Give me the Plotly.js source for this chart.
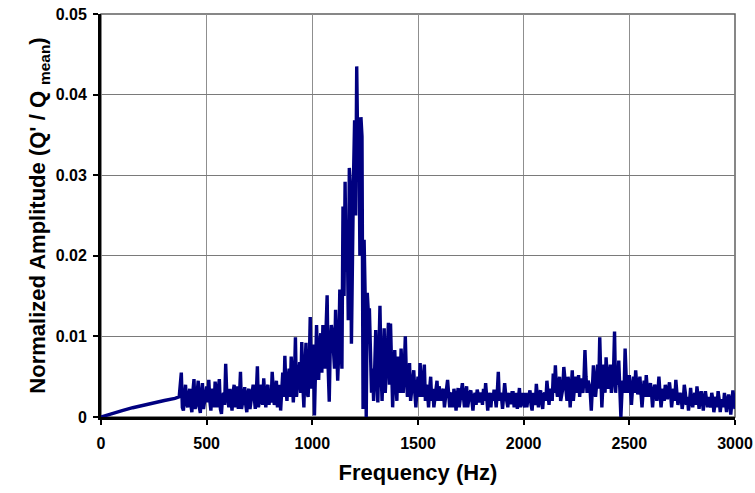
<!DOCTYPE html>
<html>
<head>
<meta charset="utf-8">
<script src="https://cdn.plot.ly/plotly-3.0.1.min.js"></script>
<style>html,body{margin:0;padding:0;background:#fff;}#chart{width:755px;height:493px;}</style>
</head>
<body>
<div id="chart"></div>
<script>
// Smooth low-frequency part (Hz, amplitude)
const rampFreq = [0, 50, 100, 150, 200, 250, 300, 350, 370];
const rampAmp  = [0, 0.00042, 0.0008, 0.00115, 0.00148, 0.00178, 0.00205, 0.0023, 0.0025];

// Noisy spectrum 380 - 1130 Hz (10 Hz bins)
const freqA = [380,390,400,410,420,430,440,450,460,470,480,490,500,510,520,530,540,550,560,570,580,590,600,610,620,630,640,650,660,670,680,690,700,710,720,730,740,750,760,770,780,790,800,810,820,830,840,850,860,870,880,890,900,910,920,930,940,950,960,970,980,990,1000,1010,1020,1030,1040,1050,1060,1070,1080,1090,1100,1110,1120,1130];
const ampA  = [0.0055,0.0008,0.0040,0.0012,0.0035,0.0006,0.0047,0.0015,0.0045,0.0005,0.0042,0.0020,0.0038,0.0046,0.0008,0.0030,0.0044,0.0012,0.0047,0.0004,0.0030,0.0066,0.0020,0.0035,0.0008,0.0040,0.0025,0.0010,0.0056,0.0018,0.0037,0.0006,0.0035,0.0022,0.0040,0.0010,0.0063,0.0020,0.0035,0.0048,0.0012,0.0040,0.0030,0.0056,0.0015,0.0045,0.0030,0.0008,0.0055,0.0076,0.0020,0.0060,0.0075,0.0018,0.0099,0.0040,0.0068,0.0093,0.0012,0.0092,0.0025,0.0124,0.0060,0.0002,0.0114,0.0046,0.0104,0.0114,0.0060,0.0151,0.0019,0.0114,0.0070,0.0133,0.0045,0.0158];
// in-between bins 385 - 1135 Hz
const freqA2 = [385,395,405,415,425,435,445,455,465,475,485,495,505,515,525,535,545,555,565,575,585,595,605,615,625,635,645,655,665,675,685,695,705,715,725,735,745,755,765,775,785,795,805,815,825,835,845,855,865,875,885,895,905,915,925,935,945,955,965,975,985,995,1005,1015,1025,1035,1045,1055,1065,1075,1085,1095,1105,1115,1125,1135];
const ampA2  = [0.0012,0.0030,0.0018,0.0028,0.0015,0.0032,0.0010,0.0030,0.0012,0.0030,0.0010,0.0032,0.0018,0.0020,0.0035,0.0012,0.0030,0.0035,0.0010,0.0025,0.0015,0.0030,0.0012,0.0020,0.0030,0.0012,0.0038,0.0025,0.0010,0.0032,0.0015,0.0030,0.0010,0.0032,0.0025,0.0030,0.0012,0.0040,0.0015,0.0025,0.0035,0.0015,0.0018,0.0035,0.0025,0.0012,0.0040,0.0030,0.0025,0.0035,0.0045,0.0025,0.0050,0.0045,0.0025,0.0065,0.0030,0.0040,0.0060,0.0030,0.0060,0.0035,0.0090,0.0050,0.0070,0.0090,0.0055,0.0080,0.0110,0.0060,0.0090,0.0105,0.0060,0.0100,0.0080,0.0100];

// Main peak 1140 - 1265 Hz
const freqB = [1140,1145,1150,1155,1160,1165,1170,1175,1180,1185,1190,1195,1200,1205,1210,1215,1220,1225,1230,1235,1240,1245,1250,1255,1260,1265];
const ampB  = [0.0060,0.0261,0.0150,0.0292,0.0180,0.0240,0.0120,0.0309,0.0286,0.0091,0.0236,0.0300,0.0368,0.0250,0.0435,0.0330,0.0372,0.0200,0.0372,0.0348,0.0010,0.0220,0.0150,0.0000,0.0154,0.0130];

// 1270 - 2000 Hz
const freqC = [1270,1280,1290,1300,1310,1320,1330,1340,1350,1360,1370,1380,1390,1400,1410,1420,1430,1440,1450,1460,1470,1480,1490,1500,1510,1520,1530,1540,1550,1560,1570,1580,1590,1600,1610,1620,1630,1640,1650,1660,1670,1680,1690,1700,1710,1720,1730,1740,1750,1760,1770,1780,1790,1800,1810,1820,1830,1840,1850,1860,1870,1880,1890,1900,1910,1920,1930,1940,1950,1960,1970,1980,1990,2000];
const ampC  = [0.0135,0.0030,0.0020,0.0108,0.0018,0.0138,0.0020,0.0110,0.0050,0.0117,0.0116,0.0012,0.0083,0.0020,0.0060,0.0085,0.0030,0.0100,0.0025,0.0067,0.0035,0.0058,0.0012,0.0050,0.0067,0.0025,0.0065,0.0040,0.0012,0.0050,0.0035,0.0025,0.0045,0.0038,0.0020,0.0035,0.0028,0.0046,0.0012,0.0030,0.0035,0.0008,0.0036,0.0025,0.0042,0.0012,0.0038,0.0022,0.0033,0.0008,0.0030,0.0034,0.0018,0.0028,0.0035,0.0042,0.0008,0.0025,0.0030,0.0034,0.0012,0.0056,0.0030,0.0010,0.0042,0.0020,0.0030,0.0016,0.0030,0.0022,0.0010,0.0036,0.0020,0.0017];
const freqC2 = [1275,1285,1295,1305,1315,1325,1335,1345,1355,1365,1375,1385,1395,1405,1415,1425,1435,1445,1455,1465,1475,1485,1495,1505,1515,1525,1535,1545,1555,1565,1575,1585,1595,1605,1615,1625,1635,1645,1655,1665,1675,1685,1695,1705,1715,1725,1735,1745,1755,1765,1775,1785,1795,1805,1815,1825,1835,1845,1855,1865,1875,1885,1895,1905,1915,1925,1935,1945,1955,1965,1975,1985,1995];
const ampC2  = [0.0070,0.0060,0.0060,0.0050,0.0080,0.0060,0.0065,0.0030,0.0085,0.0040,0.0060,0.0050,0.0045,0.0075,0.0030,0.0055,0.0060,0.0050,0.0040,0.0020,0.0050,0.0030,0.0035,0.0025,0.0040,0.0045,0.0020,0.0030,0.0035,0.0020,0.0012,0.0035,0.0020,0.0030,0.0030,0.0012,0.0035,0.0025,0.0028,0.0012,0.0025,0.0025,0.0012,0.0030,0.0025,0.0030,0.0012,0.0030,0.0022,0.0025,0.0015,0.0028,0.0030,0.0015,0.0020,0.0025,0.0030,0.0012,0.0020,0.0025,0.0030,0.0020,0.0025,0.0025,0.0028,0.0012,0.0025,0.0030,0.0012,0.0030,0.0025,0.0012,0.0030];

// 2010 - 3000 Hz
const freqD = [2010,2020,2030,2040,2050,2060,2070,2080,2090,2100,2110,2120,2130,2140,2150,2160,2170,2180,2190,2200,2210,2220,2230,2240,2250,2260,2270,2280,2290,2300,2310,2320,2330,2340,2350,2360,2370,2380,2390,2400,2410,2420,2430,2440,2450,2460,2470,2480,2490,2500,2510,2520,2530,2540,2550,2560,2570,2580,2590,2600,2610,2620,2630,2640,2650,2660,2670,2680,2690,2700,2710,2720,2730,2740,2750,2760,2770,2780,2790,2800,2810,2820,2830,2840,2850,2860,2870,2880,2890,2900,2910,2920,2930,2940,2950,2960,2970,2980,2990,3000];
const ampD  = [0.0030,0.0022,0.0033,0.0008,0.0025,0.0041,0.0012,0.0033,0.0010,0.0030,0.0045,0.0015,0.0030,0.0054,0.0064,0.0025,0.0050,0.0030,0.0062,0.0030,0.0050,0.0012,0.0058,0.0035,0.0030,0.0052,0.0048,0.0030,0.0083,0.0030,0.0040,0.0008,0.0064,0.0025,0.0065,0.0099,0.0012,0.0065,0.0074,0.0035,0.0065,0.0045,0.0106,0.0055,0.0070,0.0000,0.0045,0.0085,0.0030,0.0052,0.0015,0.0050,0.0058,0.0028,0.0050,0.0012,0.0045,0.0052,0.0025,0.0042,0.0012,0.0040,0.0020,0.0050,0.0012,0.0035,0.0040,0.0022,0.0043,0.0012,0.0035,0.0046,0.0015,0.0030,0.0010,0.0040,0.0015,0.0008,0.0036,0.0012,0.0030,0.0038,0.0010,0.0032,0.0008,0.0032,0.0012,0.0020,0.0030,0.0006,0.0025,0.0032,0.0006,0.0022,0.0030,0.0006,0.0028,0.0003,0.0033,0.0010];
const freqD2 = [2005,2015,2025,2035,2045,2055,2065,2075,2085,2095,2105,2115,2125,2135,2145,2155,2165,2175,2185,2195,2205,2215,2225,2235,2245,2255,2265,2275,2285,2295,2305,2315,2325,2335,2345,2355,2365,2375,2385,2395,2405,2415,2425,2435,2445,2455,2465,2475,2485,2495,2505,2515,2525,2535,2545,2555,2565,2575,2585,2595,2605,2615,2625,2635,2645,2655,2665,2675,2685,2695,2705,2715,2725,2735,2745,2755,2765,2775,2785,2795,2805,2815,2825,2835,2845,2855,2865,2875,2885,2895,2905,2915,2925,2935,2945,2955,2965,2975,2985,2995];
const ampD2  = [0.0012,0.0012,0.0030,0.0015,0.0030,0.0015,0.0025,0.0030,0.0020,0.0028,0.0020,0.0030,0.0035,0.0020,0.0030,0.0035,0.0040,0.0020,0.0035,0.0045,0.0020,0.0040,0.0035,0.0020,0.0050,0.0040,0.0025,0.0035,0.0045,0.0050,0.0045,0.0030,0.0035,0.0045,0.0040,0.0035,0.0050,0.0040,0.0030,0.0050,0.0050,0.0030,0.0055,0.0030,0.0040,0.0040,0.0030,0.0030,0.0050,0.0040,0.0035,0.0035,0.0030,0.0040,0.0038,0.0030,0.0030,0.0025,0.0035,0.0035,0.0030,0.0030,0.0035,0.0030,0.0030,0.0025,0.0020,0.0030,0.0035,0.0030,0.0025,0.0020,0.0030,0.0025,0.0025,0.0020,0.0030,0.0025,0.0020,0.0020,0.0025,0.0015,0.0025,0.0025,0.0020,0.0025,0.0022,0.0025,0.0012,0.0022,0.0018,0.0012,0.0022,0.0018,0.0012,0.0018,0.0020,0.0020,0.0018,0.0022];

const xTickVals = [0, 500, 1000, 1500, 2000, 2500, 3000];
const yTickVals = [0, 0.01, 0.02, 0.03, 0.04, 0.05];
const yTickText = ['0', '0.01', '0.02', '0.03', '0.04', '0.05'];

// merge all bins in frequency order
const pairs = [];
[[rampFreq, rampAmp], [freqA, ampA], [freqA2, ampA2], [freqB, ampB],
 [freqC, ampC], [freqC2, ampC2], [freqD, ampD], [freqD2, ampD2]].forEach(function (s) {
  for (let i = 0; i < s[0].length; i++) pairs.push([s[0][i], s[1][i]]);
});
pairs.sort(function (a, b) { return a[0] - b[0]; });
const xs = pairs.map(function (p) { return p[0]; });
const ys = pairs.map(function (p) { return p[1]; });

const FONT = 'Liberation Sans, Arial, sans-serif';

const trace = {
  x: xs, y: ys, type: 'scatter', mode: 'lines',
  line: {color: '#000080', width: 3.4},
  hoverinfo: 'skip'
};

const layout = {
  width: 755, height: 493,
  margin: {l: 101, r: 20, t: 14, b: 76, pad: 0},
  paper_bgcolor: '#fff', plot_bgcolor: '#fff',
  showlegend: false,
  font: {family: FONT, color: '#000'},
  xaxis: {
    range: [0, 3000], tickvals: xTickVals, ticktext: xTickVals.map(String),
    showgrid: true, gridcolor: '#8f8f8f', gridwidth: 1,
    zeroline: false, showline: true, linecolor: '#000', linewidth: 3,
    ticks: 'outside', ticklen: 5, tickwidth: 2, tickcolor: '#000',
    ticklabelstandoff: 5,
    tickfont: {family: FONT, size: 16, weight: 'bold', color: '#000'},
    title: {text: 'Frequency (Hz)', font: {family: FONT, size: 22, weight: 'bold', color: '#000'}, standoff: 14},
    fixedrange: true
  },
  yaxis: {
    range: [0, 0.05], tickvals: yTickVals, ticktext: yTickText,
    showgrid: true, gridcolor: '#7a7a7a', gridwidth: 1,
    zeroline: false, showline: true, linecolor: '#000', linewidth: 3,
    ticks: 'outside', ticklen: 5, tickwidth: 2, tickcolor: '#000',
    ticklabelstandoff: 3,
    tickfont: {family: FONT, size: 16, weight: 'bold', color: '#000'},
    title: {text: "Normalized Amplitude (Q' / Q <sub>mean</sub>)", font: {family: FONT, size: 22, weight: 'bold', color: '#000'}, standoff: 4},
    fixedrange: true
  },
  shapes: [{
    type: 'rect', xref: 'paper', yref: 'paper', x0: 0, x1: 1, y0: 0, y1: 1,
    line: {color: '#606060', width: 1.5}, layer: 'below'
  }]
};

Plotly.newPlot('chart', [trace], layout, {staticPlot: true, displayModeBar: false});
</script>
</body>
</html>
